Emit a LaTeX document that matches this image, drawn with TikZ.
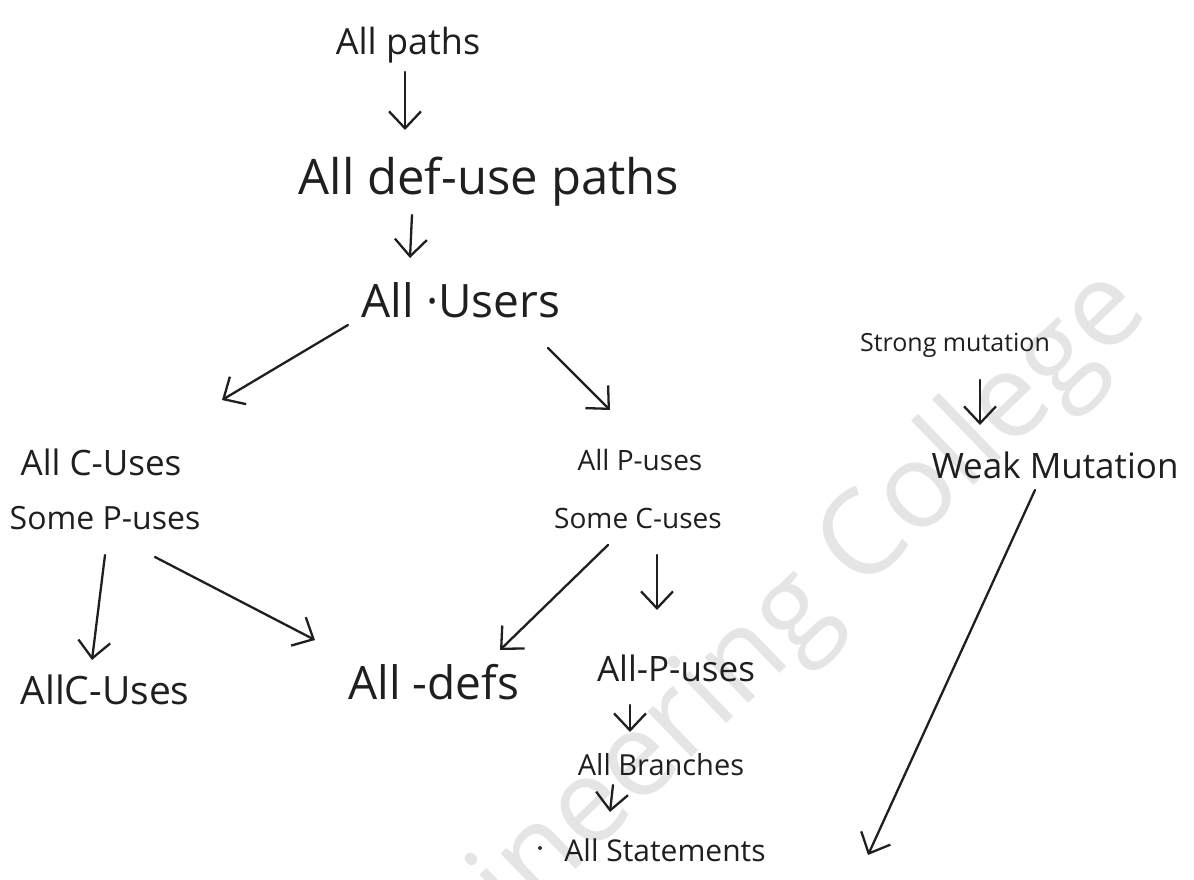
\documentclass[tikz,border=0pt]{standalone}
\usepackage{fontspec}
\setmainfont{Open Sans}
\usetikzlibrary{arrows.meta}
\newcommand\hwsize[1]{\fontsize{#1}{#1}\selectfont}
\begin{document}
\begin{tikzpicture}[x=1pt,y=-1pt,
  lbl/.style={inner sep=0pt, anchor=center, text=black!88},
  arr/.style={line width=2.3pt, line cap=round, line join=round, draw=black!88,
    -{Straight Barb[length=17pt,width=32pt,line width=2.3pt]}},
  wmtext/.style={text=black!10, inner sep=0pt}]
\fill[white] (0,0) rectangle (1194,880);
\useasboundingbox (0,0) rectangle (1194,880);

% faint background lettering
\node[wmtext, rotate=44, anchor=east, font=\hwsize{118}] (wm) at (1130,292) {Engineering College};

% criteria
\node[lbl, font=\hwsize{36}] (paths)  at (408,45)  {All paths};
\node[lbl, font=\hwsize{49}] (dup)    at (489,182) {All def-use paths};
\node[lbl, font=\hwsize{46}] (uses)   at (461,300) {All ·Users};
\node[lbl, font=\hwsize{35}] (cuse)   at (101,462) {All C-Uses};
\node[lbl, font=\hwsize{32}] (somep)  at (105,518) {Some P-uses};
\node[lbl, font=\hwsize{28}] (puse)   at (640,460) {All P-uses};
\node[lbl, font=\hwsize{28}] (somec)  at (638,518) {Some C-uses};
\node[lbl, font=\hwsize{25}] (strong) at (955,345) {Strong mutation};
\node[lbl, font=\hwsize{35}] (weak)   at (1055,465) {Weak Mutation};
\node[lbl, font=\hwsize{46}] (defs)   at (434,682) {All -defs};
\node[lbl, font=\hwsize{39}] (allc)   at (105,690) {AllC-Uses};
\node[lbl, font=\hwsize{35}] (allp)   at (676,668) {All-P-uses};
\node[lbl, font=\hwsize{29}] (branch) at (661,765) {All Branches};
\node[lbl, font=\hwsize{30}] (stmt)   at (665,850) {All Statements};
\fill[black!80] ([shift={(-125,-2)}]stmt.center) circle (2pt);

% subsumption arrows
\draw[arr] ([shift={(-3,27)}]paths.center)   -- ([shift={(-84,-52)}]dup.center);
\draw[arr] ([shift={(-77,33)}]dup.center)    -- ([shift={(-51,-42)}]uses.center);
\draw[arr] ([shift={(-113,25)}]uses.center)  -- ([shift={(121,-62)}]cuse.center);
\draw[arr] ([shift={(87,48)}]uses.center)    -- ([shift={(-30,-50)}]puse.center);
\draw[arr] ([shift={(25,35)}]strong.center)  -- ([shift={(-75,-40)}]weak.center);
\draw[arr] ([shift={(0,37)}]somep.center)    -- ([shift={(-13,-30)}]allc.center);
\draw[arr] ([shift={(50,39)}]somep.center)   -- ([shift={(-119,-42)}]defs.center);
\draw[arr] ([shift={(-30,27)}]somec.center)  -- ([shift={(66,-32)}]defs.center);
\draw[arr] ([shift={(19,37)}]somec.center)   -- ([shift={(-19,-58)}]allp.center);
\draw[arr] ([shift={(-46,37)}]allp.center)   -- ([shift={(-31,-33)}]branch.center);
\draw[arr] ([shift={(-48,20)}]branch.center) -- ([shift={(-55,-38)}]stmt.center);
\draw[arr] ([shift={(-20,25)}]weak.center)   -- ([shift={(203,5)}]stmt.center);
\end{tikzpicture}
\end{document}
